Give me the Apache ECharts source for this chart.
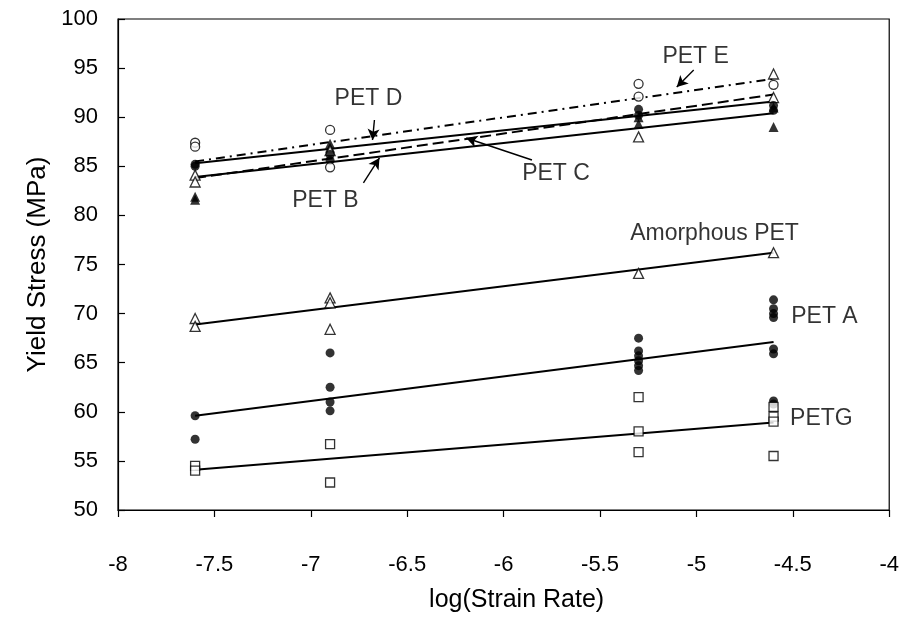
<!DOCTYPE html>
<html>
<head>
<meta charset="utf-8">
<script src="https://cdn.jsdelivr.net/npm/echarts@6/dist/echarts.min.js"></script>
<style>
html,body{margin:0;padding:0;background:#fff;}
#chart{width:902px;height:620px;}
</style>
</head>
<body>
<div id="chart"></div>
<script>
// ---- data ----
const xLevels = [-7.6, -6.9, -5.3, -4.6];
const xTicks = [-8, -7.5, -7, -6.5, -6, -5.5, -5, -4.5, -4];
const yTicks = [50, 55, 60, 65, 70, 75, 80, 85, 90, 95, 100];

// measured yield stress (MPa) at each strain-rate level
const amorphousVals = [[69.5, 68.7], [71.6, 71.1, 68.4], [74.1], [76.2]];
const petAVals = [[59.6, 57.2], [66.0, 62.5, 61.0, 60.1], [67.5, 66.2, 65.7, 65.2, 64.7, 64.2], [71.4, 70.5, 70.0, 69.6, 66.4, 65.9, 61.1, 60.8]];
const petGVals = [[54.5, 54.0], [56.7, 52.8], [61.5, 58.0, 55.9], [60.5, 59.5, 59.0, 55.5]];
const petBVals = [[81.9, 81.6], [87.3, 86.9], [90.0, 89.3], [91.0, 89.0]];
const petCVals = [[84.1, 83.4], [86.6], [88.0], [94.4, 92.0]];
const petDVals = [[85.2, 85.0], [86.2, 85.6], [90.8, 90.2], [91.2, 90.7]];
const petEVals = [[87.4, 87.0], [88.7, 84.9], [93.4, 92.1], [93.3]];

// fitted trend lines (value at first and last strain-rate level)
const fitX = [-7.6, -4.6];
const amorphousFit = [68.9, 76.2];
const petAFit = [59.6, 67.1];
const petGFit = [54.1, 58.9];
const petBFit = [83.9, 90.4];
const petCFit = [83.8, 92.3];
const petDFit = [85.3, 91.6];
const petEFit = [85.5, 93.9];

// annotation labels (text, x, y in data units)
const labelNames = ['PET E', 'PET D', 'PET C', 'PET B', 'Amorphous PET', 'PET A', 'PETG'];
const labelX = [-5.004, -6.701, -5.728, -6.924, -4.906, -4.336, -4.352];
const labelY = [96.13, 91.85, 84.22, 81.47, 78.11, 69.65, 59.27];

// annotation arrows [x1, y1, x2 (tip), y2 (tip)]
const arrowPET_E = [-5.014, 94.81, -5.102, 93.08];
const arrowPET_D = [-6.670, 89.71, -6.680, 87.68];
const arrowPET_C = [-5.853, 85.64, -6.194, 87.88];
const arrowPET_B = [-6.727, 83.30, -6.644, 85.85];

// ---- build ----
const FONT = 'Liberation Sans, Arial, sans-serif';
function pairs(vals) {
  const out = [];
  vals.forEach((arr, i) => arr.forEach(v => out.push([xLevels[i], v])));
  return out;
}
function fitPairs(f) { return fitX.map((x, i) => [x, f[i]]); }

const openStyle = { color: '#ffffff', borderColor: '#000', borderWidth: 1.3 };
const fillStyle = { color: '#000', borderColor: '#000', borderWidth: 0 };

function scatter(name, vals, symbol, size, open) {
  return {
    name: name, type: 'scatter', data: pairs(vals), symbol: symbol, symbolSize: size,
    itemStyle: open ? openStyle : fillStyle, z: 5, silent: true
  };
}
function fit(name, f, dash) {
  return {
    name: name + ' fit', type: 'line', data: fitPairs(f), symbol: 'none', z: 3, silent: true,
    lineStyle: { color: '#000', width: 2, type: dash }
  };
}
function arrow(a) {
  return [{ coord: [a[0], a[1]] }, { coord: [a[2], a[3]] }];
}

const series = [
  fit('Amorphous PET', amorphousFit, 'solid'),
  fit('PET A', petAFit, 'solid'),
  fit('PETG', petGFit, 'solid'),
  fit('PET B', petBFit, 'solid'),
  fit('PET C', petCFit, [11, 5]),
  fit('PET D', petDFit, 'solid'),
  fit('PET E', petEFit, [9, 5, 2, 5]),
  scatter('Amorphous PET', amorphousVals, 'triangle', 10, true),
  scatter('PET A', petAVals, 'circle', 9, false),
  scatter('PETG', petGVals, 'rect', 9, true),
  scatter('PET B', petBVals, 'triangle', 10, false),
  scatter('PET C', petCVals, 'triangle', 10, true),
  scatter('PET D', petDVals, 'circle', 9, false),
  scatter('PET E', petEVals, 'circle', 9, true),
  {
    name: 'labels', type: 'scatter', silent: true, z: 6,
    data: labelNames.map((n, i) => ({ name: n, value: [labelX[i], labelY[i]] })),
    symbolSize: 1, itemStyle: { color: 'rgba(0,0,0,0)' },
    label: { show: true, position: 'inside', formatter: p => p.name, color: '#000', fontSize: 23, fontFamily: FONT },
    markLine: {
      silent: true, symbol: ['none', 'arrow'], symbolSize: [9, 11], animation: false,
      lineStyle: { color: '#000', width: 1.4, type: 'solid' },
      label: { show: false },
      data: [arrow(arrowPET_E), arrow(arrowPET_D), arrow(arrowPET_C), arrow(arrowPET_B)]
    }
  }
];

const chart = echarts.init(document.getElementById('chart'), null, { renderer: 'canvas' });
chart.setOption({
  animation: false,
  backgroundColor: '#fff',
  grid: { left: 118, right: 11, top: 19, bottom: 110, show: true, borderColor: '#000', borderWidth: 1.2, backgroundColor: 'transparent' },
  xAxis: {
    type: 'value', min: xTicks[0], max: xTicks[xTicks.length - 1], interval: 0.5,
    name: 'log(Strain Rate)', nameLocation: 'middle', nameGap: 78,
    nameTextStyle: { fontSize: 25, fontFamily: FONT, color: '#000', padding: [0, 0, 0, 26] },
    axisLine: { show: true, onZero: false, lineStyle: { color: '#000', width: 1.2 } },
    axisTick: { show: true, inside: false, length: 7, lineStyle: { color: '#000', width: 1.2 } },
    axisLabel: { fontSize: 22, fontFamily: FONT, color: '#000', margin: 44, formatter: v => String(v) },
    splitLine: { show: false }
  },
  yAxis: {
    type: 'value', min: yTicks[0], max: yTicks[yTicks.length - 1], interval: 5,
    name: 'Yield Stress (MPa)', nameLocation: 'middle', nameGap: 66,
    nameTextStyle: { fontSize: 26, fontFamily: FONT, color: '#000' },
    axisLine: { show: true, onZero: false, lineStyle: { color: '#000', width: 1.2 } },
    axisTick: { show: true, inside: true, length: 7, lineStyle: { color: '#000', width: 1.2 } },
    axisLabel: { fontSize: 22, fontFamily: FONT, color: '#000', margin: 20 },
    splitLine: { show: false }
  },
  series: series
});
</script>
</body>
</html>
